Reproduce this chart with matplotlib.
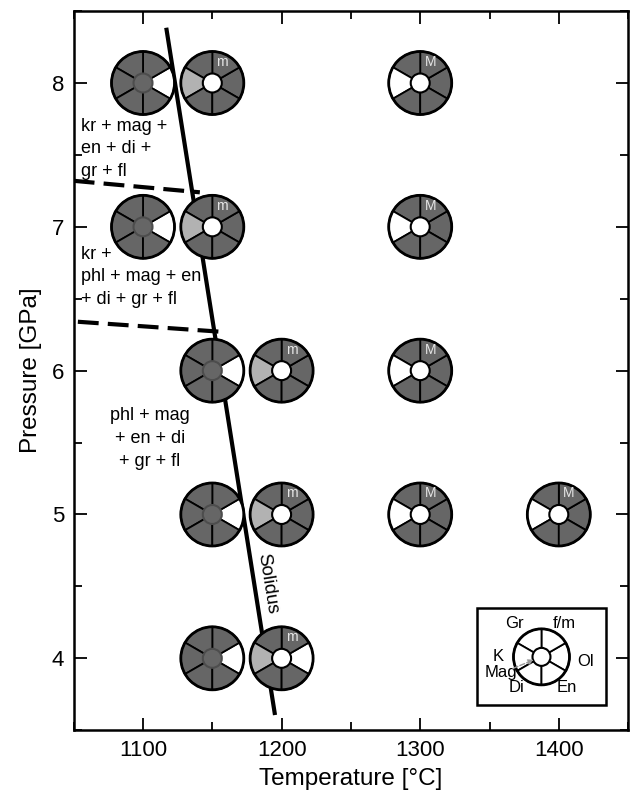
import numpy as np
import matplotlib.pyplot as plt
from matplotlib.patches import Wedge, Circle, Rectangle
from matplotlib.transforms import ScaledTranslation

plt.rcParams['font.family'] = ['Liberation Sans', 'DejaVu Sans']

# experiments: temperature, pressure
temps = [1100, 1150, 1300, 1100, 1150, 1300, 1150, 1200, 1300, 1150, 1200, 1300, 1400, 1150, 1200]
pressures = [8, 8, 8, 7, 7, 7, 6, 6, 6, 5, 5, 5, 5, 4, 4]

# phase states: d = present, l = partly, w = absent
gr_state  = ['d', 'd', 'd', 'd', 'd', 'd', 'd', 'd', 'd', 'd', 'd', 'd', 'd', 'd', 'd']
fm_state  = ['d', 'd', 'd', 'd', 'd', 'd', 'd', 'd', 'd', 'd', 'd', 'd', 'd', 'd', 'd']
ol_state  = ['w', 'd', 'd', 'w', 'd', 'd', 'w', 'd', 'd', 'w', 'd', 'd', 'd', 'w', 'w']
en_state  = ['d', 'd', 'd', 'd', 'd', 'd', 'd', 'd', 'd', 'd', 'd', 'd', 'd', 'd', 'd']
di_state  = ['d', 'd', 'd', 'd', 'd', 'd', 'd', 'd', 'd', 'd', 'd', 'd', 'd', 'd', 'd']
k_state   = ['d', 'l', 'w', 'd', 'l', 'w', 'd', 'l', 'w', 'd', 'l', 'w', 'w', 'd', 'l']
mag_state = ['d', 'w', 'w', 'd', 'w', 'w', 'd', 'w', 'w', 'd', 'w', 'w', 'w', 'd', 'w']
fm_label  = ['', 'm', 'M', '', 'm', 'M', '', 'm', 'M', '', 'm', 'M', 'M', '', 'm']

# solidus and phase boundaries
solidus_t = [1117, 1195]
solidus_p = [8.37, 3.62]
upper_t = [1050, 1141]
upper_p = [7.32, 7.24]
lower_t = [1053, 1157]
lower_p = [6.34, 6.27]

colors = {'d': '#666666', 'l': '#b2b2b2', 'w': 'white'}

fig = plt.figure(figsize=(6.3, 7.92), dpi=100)
ax = fig.add_axes([0.117, 0.078, 0.880, 0.908])
ax.set_xlim(1050, 1450)
ax.set_ylim(3.5, 8.5)


def glyph(x, y, states, mag, label, r=0.315, r0=0.095):
    off = ScaledTranslation(x, y, ax.transData)
    tr = fig.dpi_scale_trans + off
    starts = [-30, 30, 90, 150, 210, 270]
    for s, st in zip(starts, states):
        ax.add_patch(Wedge((0, 0), r, s, s + 60, facecolor=colors[st],
                           edgecolor='black', lw=1.3, transform=tr, zorder=5,
                           clip_on=False))
    ax.add_patch(Circle((0, 0), r, facecolor='none', edgecolor='black', lw=2,
                        transform=tr, zorder=6, clip_on=False))
    if mag == 'd':
        ax.add_patch(Circle((0, 0), r0, facecolor='#666666', edgecolor='#4d4d4d',
                            lw=1.5, transform=tr, zorder=7))
    else:
        ax.add_patch(Circle((0, 0), r0, facecolor='white', edgecolor='black',
                            lw=1.5, transform=tr, zorder=7))
    if label:
        ax.text(0.1, 0.21, label, transform=tr, color='#e6e6e6', fontsize=10,
                ha='center', va='center', zorder=8)


for i in range(len(temps)):
    st = [ol_state[i], fm_state[i], gr_state[i], k_state[i], di_state[i], en_state[i]]
    glyph(temps[i], pressures[i], st, mag_state[i], fm_label[i])

ax.plot(solidus_t, solidus_p, color='black', lw=3, zorder=3)
ax.plot(upper_t, upper_p, color='black', lw=3, dashes=(5, 2.2), zorder=3)
ax.plot(lower_t, lower_p, color='black', lw=3, dashes=(5, 2.2), zorder=3)
ax.text(1189.5, 4.52, 'Solidus', rotation=-81, ha='center', va='center', fontsize=13.5)

ax.text(1055.5, 7.755, 'kr + mag +\nen + di +\ngr + fl', fontsize=13, va='top',
        linespacing=1.4, zorder=9)
ax.text(1055.5, 6.865, 'kr +\nphl + mag + en\n+ di + gr + fl', fontsize=13, va='top',
        linespacing=1.4, zorder=9)
ax.text(1105, 5.75, 'phl + mag\n+ en + di\n+ gr + fl', fontsize=13, va='top',
        ha='center', linespacing=1.46, zorder=9)

# key
ax.add_patch(Rectangle((1341, 3.675), 93, 0.675, facecolor='white', edgecolor='black',
                       lw=1.8, zorder=4))
glyph(1387.5, 4.01, ['w'] * 6, 'w', '', r=0.28, r0=0.09)
key_names = ['Gr', 'f/m', 'Ol', 'En', 'Di', 'K', 'Mag']
key_t = [1368, 1404, 1419, 1406, 1369.5, 1356, 1358.5]
key_p = [4.245, 4.245, 3.975, 3.795, 3.795, 4.01, 3.9]
for name, kt, kp in zip(key_names, key_t, key_p):
    ax.text(kt, kp, name, fontsize=12, ha='center', va='center', zorder=9)
ax.annotate('', xy=(1382, 3.99), xytext=(1367, 3.93), zorder=9,
            arrowprops=dict(arrowstyle='-|>', color='#999999', lw=1, ls='--',
                            mutation_scale=8, shrinkA=0, shrinkB=0))

ax.set_xticks([1100, 1200, 1300, 1400])
ax.set_yticks([4, 5, 6, 7, 8])
ax.set_xticks(np.arange(1050, 1451, 50), minor=True)
ax.set_yticks(np.arange(3.5, 8.51, 0.5), minor=True)
ax.tick_params(which='both', direction='in', top=True, right=True, width=1.3,
               labelsize=16, pad=7)
ax.tick_params(which='major', length=9)
ax.tick_params(which='minor', length=6)
for sp in ax.spines.values():
    sp.set_linewidth(1.8)
ax.set_xlabel('Temperature [°C]', fontsize=17.5, labelpad=5)
ax.set_ylabel('Pressure [GPa]', fontsize=17.5, labelpad=7)

fig.savefig('out.png', dpi=100)
